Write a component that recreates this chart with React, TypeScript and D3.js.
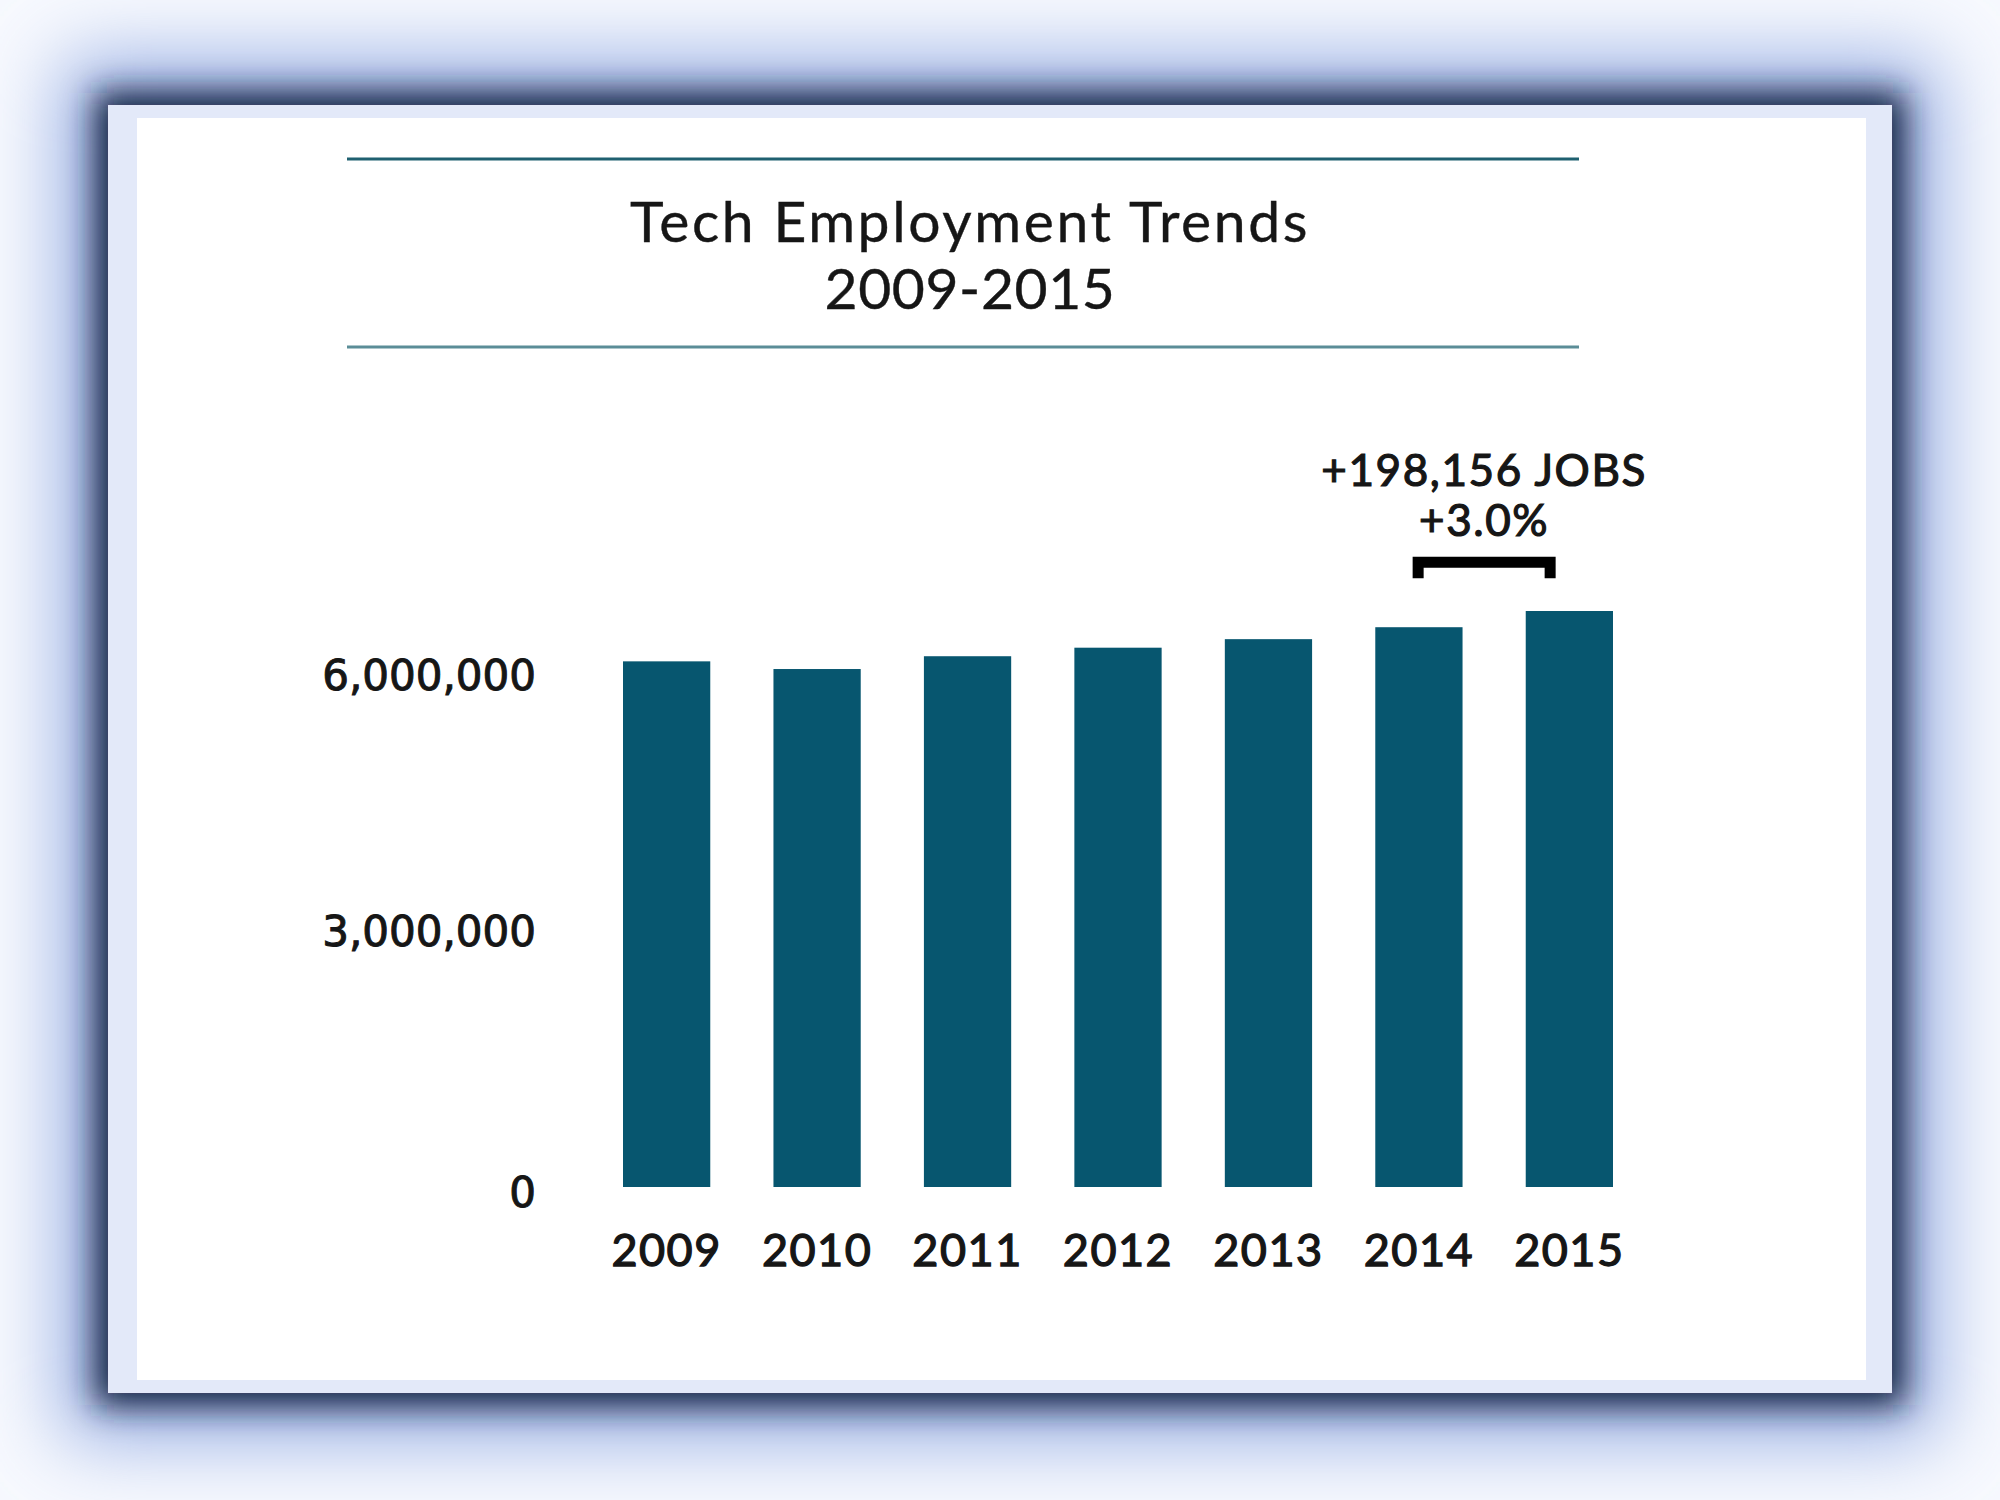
import * as React from 'react';
import {scaleBand, scaleLinear, format} from 'd3';

const years = ['2009', '2010', '2011', '2012', '2013', '2014', '2015'];
const employment = [6160000, 6070000, 6220000, 6320000, 6420000, 6560000, 6750000];
const yTicks = [0, 3000000, 6000000];
const titleLines = ['Tech Employment Trends', '2009-2015'];
const noteLines = ['+198,156 JOBS', '+3.0%'];

const W = 2000;
const H = 1500;
const card = {x: 108, y: 105, w: 1784, h: 1288};
const inner = {x: 137, y: 118, w: 1729, h: 1262};

const barColor = '#07566f';
const textColor = '#161616';

const xScale = scaleBand<string>()
    .domain(years)
    .range([623, 1613])
    .paddingInner(0.42)
    .paddingOuter(0);

const yScale = scaleLinear()
    .domain([0, 6000000])
    .range([1187, 675]);

const fmt = format(',');

export default function App() {
    const bw = xScale.bandwidth();
    const cx = (yr: string) => xScale(yr)! + bw / 2;

    // annotation sits over the 2014 -> 2015 step
    const noteX = (cx('2014') + cx('2015')) / 2 - 10;
    const bTop = yScale(employment[5]) - 70;
    const bBottom = yScale(employment[5]) - 49;
    const half = 66;

    return (
        <div style={{position: 'absolute', left: 0, top: 0}}>
            <svg width={W} height={H} style={{display: 'block'}}>
                <defs>
                    <filter id="wide" x="-20%" y="-20%" width="140%" height="140%">
                        <feGaussianBlur stdDeviation="40"/>
                    </filter>
                    <filter id="tight" x="-20%" y="-20%" width="140%" height="140%">
                        <feGaussianBlur stdDeviation="16"/>
                    </filter>
                </defs>
                <rect width={W} height={H} fill="#f7f9fe"/>
                <rect x={card.x - 45} y={card.y - 45} width={card.w + 90} height={card.h + 90}
                      fill="#93aae2" filter="url(#wide)"/>
                <rect x={card.x - 12} y={card.y - 12} width={card.w + 24} height={card.h + 24}
                      fill="#18233f" filter="url(#tight)"/>
                <rect x={card.x} y={card.y} width={card.w} height={card.h} fill="#e3e9f9"/>
                <rect x={inner.x} y={inner.y} width={inner.w} height={inner.h} fill="#ffffff"/>

                <line x1={347} x2={1579} y1={159} y2={159} stroke="#1f6070" strokeWidth={3}/>
                <line x1={347} x2={1579} y1={347} y2={347} stroke="#5b8d97" strokeWidth={3}/>
                {titleLines.map((t, i) => (
                    <text key={t} x={970} y={242 + i * 67} textAnchor="middle"
                          fontFamily="Lato, 'Open Sans', sans-serif" fontSize={57}
                          letterSpacing={i === 0 ? 2.6 : 0.6}
                          fill={textColor} stroke={textColor} strokeWidth={0.4}>{t}</text>
                ))}

                {yTicks.map(t => (
                    <text key={t} x={536} y={yScale(t) + (t === 0 ? 5 : 0)} dy="0.36em" textAnchor="end"
                          fontFamily="'DejaVu Sans', sans-serif" fontSize={42}
                          fill={textColor} stroke={textColor} strokeWidth={1}>{fmt(t)}</text>
                ))}

                {years.map((yr, i) => (
                    <rect key={yr} x={xScale(yr)} y={yScale(employment[i])}
                          width={bw} height={yScale(0) - yScale(employment[i])} fill={barColor}/>
                ))}

                {years.map(yr => (
                    <text key={yr} x={cx(yr)} y={yScale(0) + 79} textAnchor="middle"
                          fontFamily="Lato, sans-serif" fontSize={45} letterSpacing={1.5}
                          fill={textColor} stroke={textColor} strokeWidth={1.3}>{yr}</text>
                ))}

                {noteLines.map((t, i) => (
                    <text key={t} x={noteX} y={bTop - 71 + i * 50} textAnchor="middle"
                          fontFamily="Lato, sans-serif" fontSize={44} letterSpacing={1.6}
                          fill={textColor} stroke={textColor} strokeWidth={1.2}>{t}</text>
                ))}
                <path d={`M${noteX - half},${bBottom} V${bTop + 5} H${noteX + half} V${bBottom}`}
                      fill="none" stroke="#000" strokeWidth={11}/>
            </svg>
        </div>
    );
}
